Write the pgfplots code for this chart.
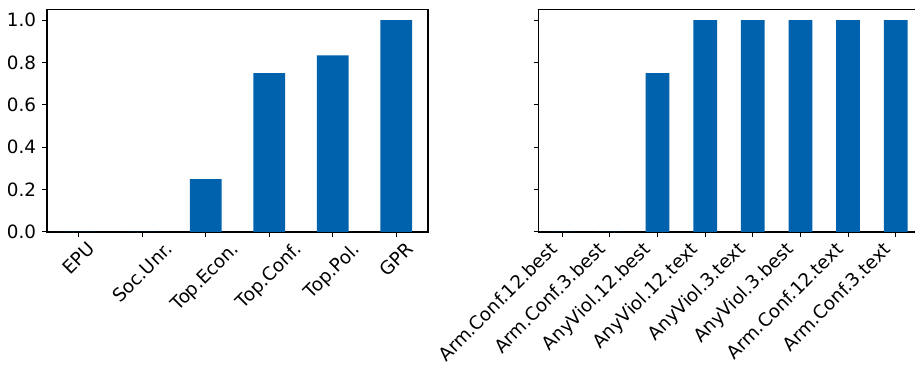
\documentclass[border=0pt]{standalone}
\usepackage{fontspec}
\setmainfont{DejaVu Sans}
\usepackage{graphicx}
\usepackage{pgfplots}
\pgfplotsset{compat=1.18}

\definecolor{barblue}{RGB}{0,97,173}

\pgfplotsset{
  panel/.style={
    scale only axis,
    width=228.6pt, height=133.5pt,
    ybar, bar width=0.5,
    ymin=0, ymax=1.05,
    ytick={0,0.2,0.4,0.6,0.8,1.0},
    tick pos=left,
    tick align=outside,
    major tick length=3pt,
    tick style={black, line width=0.6pt},
    axis line style={line width=0.8pt},
    xtick=data,
    /pgf/number format/assume math mode=true,
    yticklabel style={/pgf/number format/.cd, fixed, fixed zerofill, precision=1},
    every tick label/.append style={font=\fontsize{11}{13}\selectfont},
  },
}

\begin{document}
\begin{tikzpicture}
% left panel: economic and political indices
\begin{axis}[panel,
  xmin=-0.5, xmax=5.5,
  xticklabels={\rotatebox{45}{EPU},\rotatebox{45}{Soc.Unr.},\rotatebox{45}{Top.Econ.},\rotatebox{45}{Top.Conf.},\rotatebox{45}{Top.Pol.},\rotatebox{45}{GPR}},
  xticklabel style={anchor=north, inner sep=2pt},
]
\addplot[fill=barblue, draw=none] coordinates {
  (0,0) (1,0) (2,0.25) (3,0.75) (4,0.8333) (5,1.0)
};
\end{axis}

% right panel: conflict and violence measures
\begin{axis}[panel, xshift=294.9pt,
  xmin=-0.5, xmax=7.5,
  yticklabels={},
  xticklabels={\rotatebox{45}{Arm.Conf.12.best},\rotatebox{45}{Arm.Conf.3.best},\rotatebox{45}{AnyViol.12.best},\rotatebox{45}{AnyViol.12.text},\rotatebox{45}{AnyViol.3.text},\rotatebox{45}{AnyViol.3.best},\rotatebox{45}{Arm.Conf.12.text},\rotatebox{45}{Arm.Conf.3.text}},
  xticklabel style={anchor=north east, inner sep=2pt},
]
\addplot[fill=barblue, draw=none] coordinates {
  (0,0) (1,0) (2,0.75) (3,1) (4,1) (5,1) (6,1) (7,1)
};
\end{axis}

\pgfresetboundingbox
\path[use as bounding box] (-28.2pt,-82.2pt) rectangle (520.8pt,139.2pt);
\end{tikzpicture}
\end{document}
